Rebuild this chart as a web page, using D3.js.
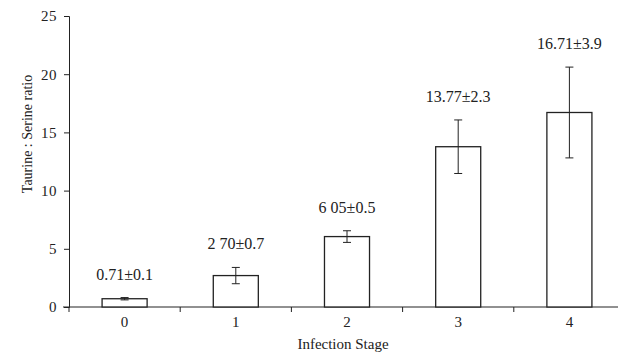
<!DOCTYPE html>
<html>
<head>
  <meta charset="utf-8">
  <title>Taurine : Serine ratio</title>
  <script src="https://d3js.org/d3.v7.min.js"></script>
  <style>
    body { margin: 0; background: #fff; }
    text { font-family: "Liberation Serif", "DejaVu Serif", serif; fill: #222; }
  </style>
</head>
<body>
  <script>
    // data
    var stages = ['0', '1', '2', '3', '4'];
    var means = [0.71, 2.70, 6.05, 13.77, 16.71];
    var errors = [0.1, 0.7, 0.5, 2.3, 3.9];
    var labels = ['0.71\u00b10.1', '2 70\u00b10.7', '6 05\u00b10.5', '13.77\u00b12.3', '16.71\u00b13.9'];
    var yTicks = [0, 5, 10, 15, 20, 25];

    var W = 618, H = 353;
    var svg = d3.select('body').append('svg')
      .attr('width', W)
      .attr('height', H);

    var x = d3.scaleBand().domain(stages).range([69, 625]);
    var y = d3.scaleLinear().domain([0, 25]).range([307, 16]);
    var barW = x.bandwidth() * 0.405;
    var ink = '#222';

    // y axis
    var yAxis = svg.append('g')
      .attr('transform', 'translate(69,0)')
      .call(d3.axisLeft(y).tickValues(yTicks).tickSize(5).tickPadding(7));
    yAxis.select('.domain').attr('stroke', ink);
    yAxis.selectAll('.tick line').attr('stroke', ink);
    yAxis.selectAll('.tick text')
      .style('font-size', '15px')
      .style('font-family', '"Liberation Serif", serif')
      .style('letter-spacing', '0.5px')
      .attr('fill', ink);

    // x axis: line, boundary ticks, centred labels
    svg.append('line')
      .attr('x1', 63).attr('x2', W)
      .attr('y1', y(0)).attr('y2', y(0))
      .attr('stroke', ink);
    svg.selectAll('.xtick')
      .data(stages)
      .enter().append('line')
      .attr('class', 'xtick')
      .attr('x1', function(d) { return x(d); })
      .attr('x2', function(d) { return x(d); })
      .attr('y1', y(0)).attr('y2', y(0) + 5)
      .attr('stroke', ink);
    svg.selectAll('.xlab')
      .data(stages)
      .enter().append('text')
      .attr('class', 'xlab')
      .attr('x', function(d) { return x(d) + x.bandwidth() / 2; })
      .attr('y', 327)
      .attr('text-anchor', 'middle')
      .style('font-size', '15px')
      .text(function(d) { return d; });

    // bars
    svg.selectAll('.bar')
      .data(stages)
      .enter().append('rect')
      .attr('class', 'bar')
      .attr('x', function(d) { return x(d) + x.bandwidth() / 2 - barW / 2; })
      .attr('y', function(d, i) { return y(means[i]); })
      .attr('width', barW)
      .attr('height', function(d, i) { return y(0) - y(means[i]); })
      .attr('fill', '#fff')
      .attr('stroke', ink)
      .attr('stroke-width', 1.3);

    // error bars
    var eb = svg.selectAll('.err')
      .data(stages)
      .enter().append('g')
      .attr('class', 'err')
      .attr('transform', function(d) { return 'translate(' + (x(d) + x.bandwidth() / 2) + ',0)'; });
    eb.append('line')
      .attr('y1', function(d, i) { return y(means[i] - errors[i]); })
      .attr('y2', function(d, i) { return y(means[i] + errors[i]); })
      .attr('stroke', ink);
    eb.append('line')
      .attr('x1', -4).attr('x2', 4)
      .attr('y1', function(d, i) { return y(means[i] + errors[i]); })
      .attr('y2', function(d, i) { return y(means[i] + errors[i]); })
      .attr('stroke', ink);
    eb.append('line')
      .attr('x1', -4).attr('x2', 4)
      .attr('y1', function(d, i) { return y(means[i] - errors[i]); })
      .attr('y2', function(d, i) { return y(means[i] - errors[i]); })
      .attr('stroke', ink);

    // value labels
    svg.selectAll('.val')
      .data(stages)
      .enter().append('text')
      .attr('class', 'val')
      .attr('x', function(d) { return x(d) + x.bandwidth() / 2; })
      .attr('y', function(d, i) { return y(means[i] + errors[i]) - 18; })
      .attr('text-anchor', 'middle')
      .style('font-size', '16px')
      .text(function(d, i) { return labels[i]; });

    // axis titles
    svg.append('text')
      .attr('transform', 'translate(32,134) rotate(-90)')
      .attr('text-anchor', 'middle')
      .style('font-size', '14px')
      .text('Taurine : Serine ratio');
    svg.append('text')
      .attr('x', 343)
      .attr('y', 349)
      .attr('text-anchor', 'middle')
      .style('font-size', '15px')
      .text('Infection Stage');
  </script>
</body>
</html>
